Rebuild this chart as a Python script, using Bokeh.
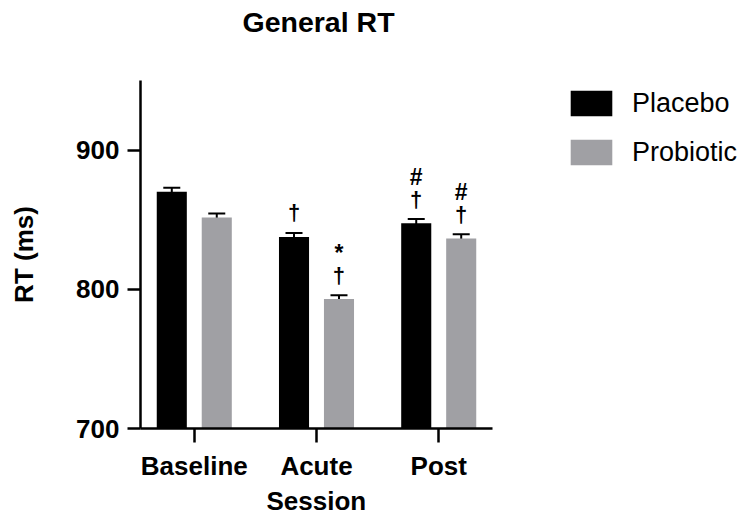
from bokeh.plotting import figure
from bokeh.models import (Range1d, FixedTicker, ColumnDataSource, Whisker, TeeHead,
                          Legend, LegendItem, Title)
from bokeh.core.properties import value
from bokeh.embed import file_html
from bokeh.resources import INLINE

sessions = ["Baseline", "Acute", "Post"]
placebo = [870.0, 837.5, 847.5]
placebo_err = [3.0, 3.0, 3.0]
probiotic = [851.5, 793.0, 836.5]
probiotic_err = [3.0, 2.8, 3.0]
placebo_sig_1 = ["", "†", "†"]
placebo_sig_2 = ["", "", "#"]
probiotic_sig_1 = ["", "†", "†"]
probiotic_sig_2 = ["", "*", "#"]
y_ticks = [700, 800, 900]
y_start, y_end = 700, 950

FONT = "Liberation Sans"
BLACK = "#000000"
GREY = "#A0A0A4"
DODGE = 0.184
BAR_W = 0.246

# axis spans x_lo..x_hi (352 px); the frame continues to the right edge to host the legend
W, H = 741, 515
LEFT, TOP, BOTTOM = 140, 80, 87
AXIS_PX = 352
x_lo, x_hi = -0.44, 2.44
frame_px = W - LEFT
x_end = x_lo + (x_hi - x_lo) * frame_px / AXIS_PX

p = figure(width=W, height=H, output_backend="svg", toolbar_location=None,
           x_range=Range1d(x_lo, x_end), y_range=Range1d(y_start, y_end),
           min_border_left=LEFT, min_border_right=0, min_border_top=TOP,
           min_border_bottom=BOTTOM, title="General RT")
p.background_fill_color = "white"
p.border_fill_color = "white"
p.outline_line_color = None
p.xgrid.visible = False
p.ygrid.visible = False

# spacer between the frame and the title
p.add_layout(Title(text=" ", text_font_size="1px", standoff=40), "above")
p.title.text_font = FONT
p.title.text_font_size = "28.5px"
p.title.text_font_style = "bold"
p.title.text_color = BLACK
p.title.align = "left"
p.title.offset = 102
p.title.standoff = 0

groups = [
    (placebo, placebo_err, placebo_sig_1, placebo_sig_2, -DODGE, BLACK, "Placebo"),
    (probiotic, probiotic_err, probiotic_sig_1, probiotic_sig_2, DODGE, GREY, "Probiotic"),
]
items = []
for vals, errs, s1, s2, off, col, name in groups:
    xs = [i + off for i in range(len(sessions))]
    src = ColumnDataSource(dict(
        x=xs, top=vals, bottom=[y_start] * len(vals),
        upper=[v + e for v, e in zip(vals, errs)],
        lower=[v - e for v, e in zip(vals, errs)],
        s1=s1, s2=s2,
    ))
    r = p.vbar(x="x", top="top", bottom="bottom", width=BAR_W, source=src,
               fill_color=col, line_color=None)
    items.append(LegendItem(label=name, renderers=[r]))
    w = Whisker(base="x", upper="upper", lower="lower", source=src,
                line_color=BLACK, line_width=2,
                upper_head=TeeHead(size=17, line_width=2, line_color=BLACK),
                lower_head=TeeHead(size=17, line_width=2, line_color=BLACK))
    p.add_layout(w)
    p.text(x="x", y="upper", text="s1", source=src, y_offset=-20,
           text_align="center", text_baseline="middle",
           text_font=value(FONT), text_font_size="22px", text_font_style="bold",
           text_color=BLACK)
    p.text(x="x", y="upper", text="s2", source=src, y_offset=-42,
           text_align="center", text_baseline="middle",
           text_font=value(FONT), text_font_size="23px", text_font_style="bold",
           text_color=BLACK)

legend = Legend(items=items, location=(425, 256), orientation="vertical",
                glyph_width=52, glyph_height=32, label_height=40,
                label_standoff=15, spacing=9, padding=0, margin=0,
                border_line_color=None, background_fill_alpha=0,
                label_text_font=FONT, label_text_font_size="27px",
                label_text_color=BLACK)
p.add_layout(legend)

for ax in (p.xaxis[0], p.yaxis[0]):
    ax.axis_line_width = 2.5
    ax.axis_line_color = BLACK
    ax.major_tick_line_width = 2.5
    ax.major_tick_line_color = BLACK
    ax.major_tick_in = 0
    ax.minor_tick_out = 0
    ax.minor_tick_in = 0
    ax.major_label_text_font = FONT
    ax.major_label_text_font_size = "26px"
    ax.major_label_text_font_style = "bold"
    ax.major_label_text_color = BLACK
    ax.axis_label_text_font = FONT
    ax.axis_label_text_font_size = "26px"
    ax.axis_label_text_font_style = "bold"
    ax.axis_label_text_color = BLACK

p.xaxis.bounds = (x_lo, x_hi)
p.xaxis.ticker = FixedTicker(ticks=list(range(len(sessions))))
p.xaxis.major_label_overrides = {i: s for i, s in enumerate(sessions)}
p.xaxis.major_tick_out = 14
p.xaxis.major_label_standoff = 8

# x-axis title, centred under the drawn axis
p.add_layout(Title(text="Session", align="left", offset=126, standoff=0,
                   text_font=FONT, text_font_size="26px", text_font_style="bold",
                   text_color=BLACK), "below")

p.yaxis.ticker = FixedTicker(ticks=y_ticks)
p.yaxis.major_tick_out = 13
p.yaxis.major_label_standoff = 8
p.yaxis.axis_label = "RT (ms)"
p.yaxis.axis_label_standoff = 34

open("out.html", "w").write(file_html(p, INLINE))
